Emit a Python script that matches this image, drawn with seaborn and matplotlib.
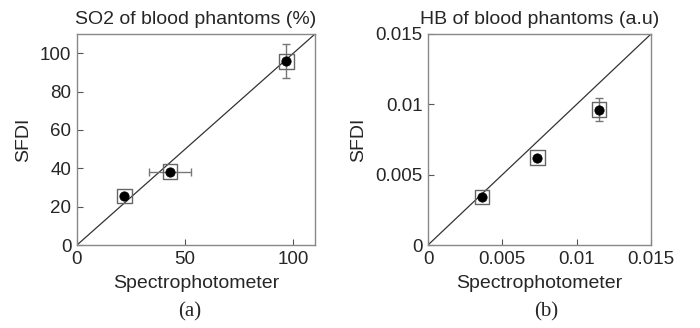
import numpy as np
import pandas as pd
import matplotlib
matplotlib.use("Agg")
import matplotlib.pyplot as plt
import seaborn as sns

sns.set_style("white")
plt.rcParams['font.family'] = ['Liberation Sans', 'DejaVu Sans']

# Panel (a): SO2
so2_spectro = [21.9, 43.0, 96.8]
so2_sfdi = [25.6, 38.2, 95.8]
so2_xerr = [0, 9.8, 0]
so2_yerr = [0, 0, 8.9]
so2_line = [0, 110]

# Panel (b): HB
hb_spectro = [0.00362, 0.00735, 0.0115]
hb_sfdi = [0.00342, 0.00622, 0.00963]
hb_xerr = [0, 0, 0]
hb_yerr = [0, 0, 0.00083]
hb_line = [0, 0.015]

fig = plt.figure(figsize=(7, 3.28), dpi=100)
axA = fig.add_axes([77/700, 1-245/328, 238/700, 211/328])
axB = fig.add_axes([428/700, 1-245/328, 223/700, 211/328])

def panel(ax, xs, ys, xerr, yerr, line, lim, xticks, xtl, yticks, ytl, title):
    sns.lineplot(x=line, y=line, ax=ax, color='#333333', lw=0.9, zorder=2)
    ax.errorbar(xs, ys, xerr=xerr, yerr=yerr, fmt='none', ecolor='#777777',
                elinewidth=1, capsize=3, capthick=1, zorder=3)
    df = pd.DataFrame({'x': xs, 'y': ys})
    sns.scatterplot(data=df, x='x', y='y', ax=ax, marker='s', s=110,
                    facecolor='none', edgecolor='#666666', linewidth=1.0,
                    zorder=4)
    sns.scatterplot(data=df, x='x', y='y', ax=ax, marker='o', s=45,
                    color='black', edgecolor='black', zorder=5)
    ax.set_xlim(lim)
    ax.set_ylim(lim)
    ax.set_xticks(xticks)
    ax.set_xticklabels(xtl)
    ax.set_yticks(yticks)
    ax.set_yticklabels(ytl)
    ax.tick_params(direction='in', length=4, width=0.8, color='#555555',
                   labelsize=13.5, pad=4, bottom=True, left=True)
    for s in ax.spines.values():
        s.set_color('#888888')
        s.set_linewidth(1.0)
    ax.set_xlabel('Spectrophotometer', fontsize=14, labelpad=5)
    ax.set_ylabel('SFDI', fontsize=14, labelpad=6)
    ax.set_title(title, fontsize=14, pad=7)

panel(axA, so2_spectro, so2_sfdi, so2_xerr, so2_yerr, so2_line, (0, 110),
      [0, 50, 100], ['0', '50', '100'], [0, 20, 40, 60, 80, 100],
      ['0', '20', '40', '60', '80', '100'], 'SO2 of blood phantoms (%)')
panel(axB, hb_spectro, hb_sfdi, hb_xerr, hb_yerr, hb_line, (0, 0.015),
      [0, 0.005, 0.01, 0.015], ['0', '0.005', '0.01', '0.015'],
      [0, 0.005, 0.01, 0.015], ['0', '0.005', '0.01', '0.015'],
      'HB of blood phantoms (a.u)')

fig.text(190/700, 1-312/328, '(a)', ha='center', va='center', fontsize=15,
         family=['Liberation Serif'])
fig.text(546/700, 1-312/328, '(b)', ha='center', va='center', fontsize=15,
         family=['Liberation Serif'])

fig.savefig('out.png', dpi=100)
